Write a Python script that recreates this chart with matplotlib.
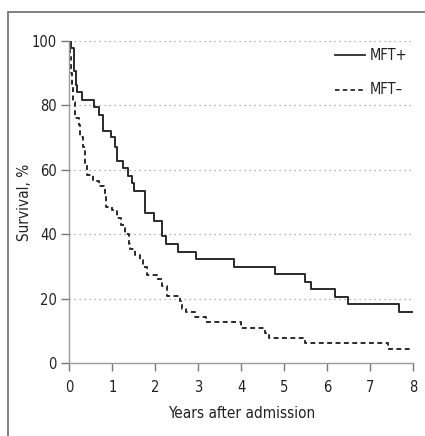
import matplotlib
matplotlib.use("Agg")
import matplotlib.pyplot as plt
from matplotlib.patches import Rectangle

# Data (Kaplan-Meier step curves)
mft_pos_t = [0, 0.04, 0.1, 0.15, 0.18, 0.29, 0.58, 0.68, 0.79, 0.96, 1.07, 1.12,
             1.24, 1.36, 1.46, 1.5, 1.76, 1.97, 2.15, 2.26, 2.52, 2.94, 3.84,
             4.78, 5.48, 5.62, 6.19, 6.48, 7.66, 8.0]
mft_pos_s = [100, 97.6, 90.6, 86.3, 84, 81.6, 79.3, 77, 72.1, 70, 67, 62.8,
             60.4, 58.2, 55.8, 53.5, 46.5, 44.1, 39.5, 36.9, 34.6, 32.3, 30,
             27.7, 25.3, 22.9, 20.7, 18.4, 16, 16]

mft_neg_t = [0, 0.02, 0.04, 0.06, 0.08, 0.13, 0.22, 0.26, 0.32, 0.37, 0.42,
             0.55, 0.7, 0.83, 0.86, 1.0, 1.12, 1.2, 1.3, 1.38, 1.42, 1.52, 1.65,
             1.72, 1.8, 2.03, 2.15, 2.27, 2.57, 2.62, 2.72, 2.92, 3.19, 4.0,
             4.55, 4.65, 5.48, 7.42, 8.0]
mft_neg_s = [100, 95, 90, 86, 81, 76, 74, 70, 67, 62, 58.5,
             56.5, 55, 52, 48.5, 47.5, 45, 43, 40, 37, 35.5, 33.5, 32,
             30, 27.5, 26, 24, 21, 19.3, 16.8, 15.9, 14.3, 12.7, 11.0,
             9.5, 7.9, 6.2, 4.5, 4.5]

series_labels = ["MFT+", "MFT\u2013"]
x_ticks = [0, 1, 2, 3, 4, 5, 6, 7, 8]
y_ticks = [0, 20, 40, 60, 80, 100]
x_label = "Years after admission"
y_label = "Survival, %"

plt.rcParams['font.family'] = ["DejaVu Sans"]
plt.rcParams['font.stretch'] = "condensed"
FS = 10.5

fig = plt.figure(figsize=(4.25, 4.36), dpi=100)
ax = fig.add_axes([69.3 / 425, 1 - 363.3 / 436, (413.3 - 69.3) / 425, (363.3 - 40.7) / 436])

# outer frame
fig.patches.append(Rectangle((8 / 425, -0.2), 1.2, 1.2 - 12 / 436, transform=fig.transFigure,
                             fill=False, edgecolor="#777777", linewidth=1.3, clip_on=False))

for y in y_ticks[1:]:
    ax.axhline(y, color="#9a9a9a", linestyle=(0, (1, 3)), linewidth=0.9, zorder=0)

ax.step(mft_pos_t, mft_pos_s, where="post", color="#2a2a2a", linewidth=1.4)
ax.step(mft_neg_t, mft_neg_s, where="post", color="#2a2a2a", linewidth=1.4,
        linestyle=(0, (2.5, 1.8)))

ax.set_xlim(0, 8)
ax.set_ylim(0, 100)
ax.set_xticks(x_ticks)
ax.set_yticks(y_ticks)
ax.tick_params(direction="out", length=6, width=1, color="#777777", labelsize=FS,
               labelcolor="#222222", pad=3)
ax.tick_params(axis="x", pad=6)
for s in ["top", "right"]:
    ax.spines[s].set_visible(False)
for s in ["left", "bottom"]:
    ax.spines[s].set_color("#999999")
    ax.spines[s].set_linewidth(1.0)

ax.set_xlabel(x_label, fontsize=FS + 0.5, color="#222222")
ax.set_ylabel(y_label, fontsize=FS + 0.5, color="#222222")
ax.yaxis.set_label_coords((25 - 69.3) / 344, 0.5)
ax.xaxis.set_label_coords(0.5, (363.3 - 413) / 322.6)
ax.xaxis.label.set_va("center")
ax.yaxis.label.set_va("center")

# legend drawn manually
lx0, lx1, tx = 335, 365, 370
for yy, lab, ls in [(55, series_labels[0], "-"), (90, series_labels[1], (0, (2.5, 1.8)))]:
    fig.add_artist(plt.Line2D([lx0 / 425, lx1 / 425], [1 - yy / 436, 1 - yy / 436],
                              transform=fig.transFigure, color="#2a2a2a", linewidth=1.3,
                              linestyle=ls))
    fig.text(tx / 425, 1 - yy / 436, lab, fontsize=FS, color="#222222", va="center", ha="left")

fig.savefig("out.png", dpi=100)
